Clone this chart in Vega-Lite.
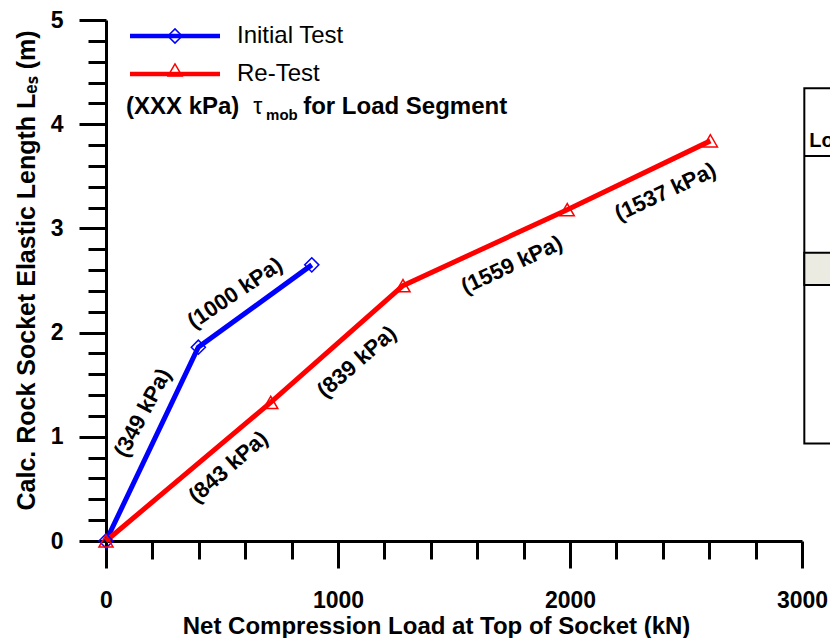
{
  "$schema": "https://vega.github.io/schema/vega-lite/v6.json",
  "width": 696,
  "height": 521,
  "autosize": {"type": "none"},
  "padding": {"left": 106, "top": 20, "right": 28, "bottom": 97},
  "background": "white",
  "config": {
    "view": {"stroke": null},
    "font": "Liberation Sans",
    "axis": {"grid": false, "domainColor": "black", "tickColor": "black", "labelColor": "black", "titleColor": "black"}
  },
  "datasets": {
    "series": [
      {"series": "Initial Test", "load": 0, "length": 0},
      {"series": "Initial Test", "load": 398, "length": 1.86},
      {"series": "Initial Test", "load": 887, "length": 2.65},
      {"series": "Re-Test", "load": 0, "length": 0},
      {"series": "Re-Test", "load": 710, "length": 1.33},
      {"series": "Re-Test", "load": 1280, "length": 2.45},
      {"series": "Re-Test", "load": 1988, "length": 3.18},
      {"series": "Re-Test", "load": 2605, "length": 3.84}
    ],
    "labels": [
      {"label": "(349 kPa)", "load": 158, "length": 1.23},
      {"label": "(1000 kPa)", "load": 556, "length": 2.38},
      {"label": "(843 kPa)", "load": 527, "length": 0.71},
      {"label": "(839 kPa)", "load": 1081, "length": 1.72},
      {"label": "(1559 kPa)", "load": 1749, "length": 2.65},
      {"label": "(1537 kPa)", "load": 2411, "length": 3.35}
    ]
  },
  "resolve": {"axis": {"x": "independent", "y": "independent"}},
  "layer": [
    {
      "data": {"values": [{}]},
      "mark": {"type": "rect", "fill": "white", "stroke": "black", "strokeWidth": 2},
      "encoding": {
        "x": {"datum": 3010, "type": "quantitative", "scale": {"domain": [0, 3000], "nice": false}, "axis": null},
        "x2": {"datum": 3400},
        "y": {"datum": 0.936, "type": "quantitative", "scale": {"domain": [0, 5], "nice": false}, "axis": null},
        "y2": {"datum": 4.346}
      }
    },
    {
      "data": {"values": [{}]},
      "mark": {"type": "rect", "fill": "#ECEBE1", "stroke": "black", "strokeWidth": 2},
      "encoding": {
        "x": {"datum": 3010, "type": "quantitative", "scale": {"domain": [0, 3000], "nice": false}, "axis": null},
        "x2": {"datum": 3400},
        "y": {"datum": 2.456, "type": "quantitative", "scale": {"domain": [0, 5], "nice": false}, "axis": null},
        "y2": {"datum": 2.767}
      }
    },
    {
      "data": {"values": [{}]},
      "mark": {"type": "rule", "stroke": "black", "strokeWidth": 2},
      "encoding": {
        "x": {"datum": 3010, "type": "quantitative", "scale": {"domain": [0, 3000], "nice": false}, "axis": null},
        "x2": {"datum": 3400},
        "y": {"datum": 3.695, "type": "quantitative", "scale": {"domain": [0, 5], "nice": false}, "axis": null}
      }
    },
    {
      "data": {"values": [{}]},
      "mark": {"type": "text", "text": "Lo", "align": "left", "baseline": "alphabetic", "fontSize": 20, "fontWeight": "bold", "font": "Liberation Sans", "color": "black"},
      "encoding": {
        "x": {"datum": 3031, "type": "quantitative", "scale": {"domain": [0, 3000], "nice": false}, "axis": null},
        "y": {"datum": 3.78, "type": "quantitative", "scale": {"domain": [0, 5], "nice": false}, "axis": null}
      }
    },
    {
      "data": {"name": "series"},
      "mark": {"type": "line", "strokeWidth": 5},
      "encoding": {
        "x": {
          "field": "load", "type": "quantitative",
          "scale": {"domain": [0, 3000], "nice": false},
          "axis": {
            "orient": "bottom", "values": [0, 1000, 2000, 3000], "format": "d", "tickSize": 27, "tickWidth": 3, "domainWidth": 3,
            "labelFontSize": 23, "labelFontWeight": "bold", "labelPadding": 21, "labelFlush": false, "labelOverlap": false,
            "title": "Net Compression Load at Top of Socket (kN)", "titleFontSize": 24, "titleFontWeight": "bold",
            "titleX": 330, "titleY": 92, "titleBaseline": "alphabetic", "titleAlign": "center"
          }
        },
        "y": {
          "field": "length", "type": "quantitative",
          "scale": {"domain": [0, 5], "nice": false},
          "axis": {
            "orient": "left", "values": [0, 1, 2, 3, 4, 5], "tickSize": 27, "tickWidth": 3, "domainWidth": 3,
            "labelFontSize": 23, "labelFontWeight": "bold", "labelPadding": 16, "labelOverlap": false,
            "title": "Calc. Rock Socket Elastic Length Lₑₛ (m)", "titleFontSize": 25, "titleFontWeight": "bold",
            "titleX": -72, "titleY": 250, "titleAngle": -90, "titleAlign": "center", "titleBaseline": "alphabetic"
          }
        },
        "stroke": {
          "field": "series", "type": "nominal",
          "scale": {"domain": ["Initial Test", "Re-Test"], "range": ["#0000FF", "#FF0000"]},
          "legend": {
            "orient": "none", "legendX": 21.5, "legendY": 6, "title": null, "direction": "vertical",
            "symbolType": "stroke", "symbolSize": 8100, "symbolStrokeWidth": 4.5, "clipHeight": 20, "rowPadding": 14,
            "labelFontSize": 24, "labelFont": "Liberation Sans", "labelFontWeight": "normal", "labelColor": "black",
            "labelOffset": 14.5, "padding": 0, "symbolOffset": 0, "labelLimit": 0
          }
        }
      }
    },
    {
      "data": {"name": "series"},
      "mark": {"type": "point", "filled": false, "strokeWidth": 1.5, "size": 200, "opacity": 1},
      "encoding": {
        "x": {
          "field": "load", "type": "quantitative",
          "scale": {"domain": [0, 3000], "nice": false},
          "axis": {
            "orient": "bottom", "values": [200, 400, 600, 800, 1200, 1400, 1600, 1800, 2200, 2400, 2600, 2800],
            "tickSize": 18, "tickWidth": 3, "labels": false, "domain": false, "title": null
          }
        },
        "y": {
          "field": "length", "type": "quantitative",
          "scale": {"domain": [0, 5], "nice": false},
          "axis": {
            "orient": "left", "values": [0.2, 0.4, 0.6, 0.8, 1.2, 1.4, 1.6, 1.8, 2.2, 2.4, 2.6, 2.8, 3.2, 3.4, 3.6, 3.8, 4.2, 4.4, 4.6, 4.8],
            "tickSize": 18, "tickWidth": 3, "labels": false, "domain": false, "title": null
          }
        },
        "color": {
          "field": "series", "type": "nominal",
          "scale": {"range": ["#0000FF", "#FF0000"]},
          "legend": {
            "orient": "none", "legendX": 61, "legendY": 6, "title": null, "direction": "vertical",
            "clipHeight": 20, "rowPadding": 14, "labelFontSize": 1, "labelOpacity": 0,
            "symbolStrokeWidth": 1.5, "symbolSize": 200, "symbolFillColor": "transparent", "padding": 0, "symbolOffset": 0
          }
        },
        "shape": {
          "field": "series", "type": "nominal",
          "scale": {"range": ["diamond", "triangle-up"]},
          "legend": {
            "orient": "none", "legendX": 61, "legendY": 6, "title": null, "direction": "vertical",
            "clipHeight": 20, "rowPadding": 14, "labelFontSize": 1, "labelOpacity": 0,
            "symbolStrokeWidth": 1.5, "symbolSize": 200, "symbolFillColor": "transparent", "padding": 0, "symbolOffset": 0
          }
        }
      }
    },
    {
      "data": {"name": "labels"},
      "transform": [{"filter": "datum.label === '(349 kPa)'"}],
      "mark": {"type": "text", "angle": -62, "fontSize": 22, "fontWeight": "bold", "font": "Liberation Sans", "color": "black"},
      "encoding": {
        "x": {"field": "load", "type": "quantitative", "scale": {"domain": [0, 3000], "nice": false}, "axis": null},
        "y": {"field": "length", "type": "quantitative", "scale": {"domain": [0, 5], "nice": false}, "axis": null},
        "text": {"field": "label"}
      }
    },
    {
      "data": {"name": "labels"},
      "transform": [{"filter": "datum.label === '(1000 kPa)'"}],
      "mark": {"type": "text", "angle": -34, "fontSize": 22, "fontWeight": "bold", "font": "Liberation Sans", "color": "black"},
      "encoding": {
        "x": {"field": "load", "type": "quantitative", "scale": {"domain": [0, 3000], "nice": false}, "axis": null},
        "y": {"field": "length", "type": "quantitative", "scale": {"domain": [0, 5], "nice": false}, "axis": null},
        "text": {"field": "label"}
      }
    },
    {
      "data": {"name": "labels"},
      "transform": [{"filter": "datum.label === '(843 kPa)' || datum.label === '(839 kPa)'"}],
      "mark": {"type": "text", "angle": -41, "fontSize": 22, "fontWeight": "bold", "font": "Liberation Sans", "color": "black"},
      "encoding": {
        "x": {"field": "load", "type": "quantitative", "scale": {"domain": [0, 3000], "nice": false}, "axis": null},
        "y": {"field": "length", "type": "quantitative", "scale": {"domain": [0, 5], "nice": false}, "axis": null},
        "text": {"field": "label"}
      }
    },
    {
      "data": {"name": "labels"},
      "transform": [{"filter": "datum.label === '(1559 kPa)' || datum.label === '(1537 kPa)'"}],
      "mark": {"type": "text", "angle": -25, "fontSize": 22, "fontWeight": "bold", "font": "Liberation Sans", "color": "black"},
      "encoding": {
        "x": {"field": "load", "type": "quantitative", "scale": {"domain": [0, 3000], "nice": false}, "axis": null},
        "y": {"field": "length", "type": "quantitative", "scale": {"domain": [0, 5], "nice": false}, "axis": null},
        "text": {"field": "label"}
      }
    },
    {
      "data": {"values": [{}]},
      "mark": {"type": "text", "text": "(XXX kPa)", "align": "left", "baseline": "alphabetic", "fontSize": 24, "fontWeight": "bold", "font": "Liberation Sans", "color": "black"},
      "encoding": {
        "x": {"datum": 86, "type": "quantitative", "scale": {"domain": [0, 3000], "nice": false}, "axis": null},
        "y": {"datum": 4.1, "type": "quantitative", "scale": {"domain": [0, 5], "nice": false}, "axis": null}
      }
    },
    {
      "data": {"values": [{}]},
      "mark": {"type": "text", "text": "τ", "align": "left", "baseline": "alphabetic", "fontSize": 23, "fontWeight": "normal", "font": "Liberation Sans", "color": "black"},
      "encoding": {
        "x": {"datum": 635, "type": "quantitative", "scale": {"domain": [0, 3000], "nice": false}, "axis": null},
        "y": {"datum": 4.1, "type": "quantitative", "scale": {"domain": [0, 5], "nice": false}, "axis": null}
      }
    },
    {
      "data": {"values": [{}]},
      "mark": {"type": "text", "text": "mob", "align": "left", "baseline": "alphabetic", "fontSize": 15, "fontWeight": "bold", "font": "Liberation Sans", "color": "black"},
      "encoding": {
        "x": {"datum": 690, "type": "quantitative", "scale": {"domain": [0, 3000], "nice": false}, "axis": null},
        "y": {"datum": 4.04, "type": "quantitative", "scale": {"domain": [0, 5], "nice": false}, "axis": null}
      }
    },
    {
      "data": {"values": [{}]},
      "mark": {"type": "text", "text": "for Load Segment", "align": "left", "baseline": "alphabetic", "fontSize": 24, "fontWeight": "bold", "font": "Liberation Sans", "color": "black"},
      "encoding": {
        "x": {"datum": 850, "type": "quantitative", "scale": {"domain": [0, 3000], "nice": false}, "axis": null},
        "y": {"datum": 4.1, "type": "quantitative", "scale": {"domain": [0, 5], "nice": false}, "axis": null}
      }
    }
  ]
}
